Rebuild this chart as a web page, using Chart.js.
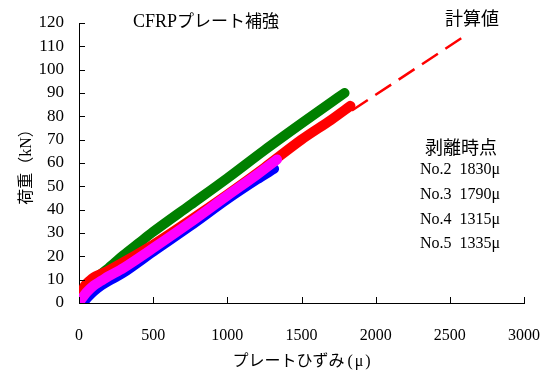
<!DOCTYPE html>
<html>
<head>
<meta charset="utf-8">
<script src="https://cdn.jsdelivr.net/npm/chart.js@4.4.1/dist/chart.umd.min.js"></script>
<style>
  html, body { margin: 0; padding: 0; background: #fff; }
  canvas { display: block; }
</style>
</head>
<body>
<canvas id="chart" width="551" height="373" style="width:551px;height:373px"></canvas>
<script>
// Load (kN) versus plate strain (μ) for CFRP-plate strengthened specimens

// No.2 (red)
const no2Strain = [0, 15, 40, 70, 100, 150, 200, 300, 500, 750, 1000, 1250, 1500, 1700, 1830];
const no2Load   = [0, 4, 7.5, 9.5, 11, 12.5, 14, 17.5, 25, 35.5, 46.5, 58, 70, 78.5, 84.5];

// No.3 (green)
const no3Strain = [0, 20, 50, 100, 150, 200, 300, 400, 500, 750, 1000, 1250, 1500, 1700, 1790];
const no3Load   = [0, 2.5, 5.5, 9.5, 12.5, 15, 20.5, 25.5, 30.5, 42, 53.5, 65.5, 77, 86, 90];

// No.4 (blue)
const no4Strain = [25, 60, 100, 150, 200, 300, 500, 750, 1000, 1200, 1315];
const no4Load   = [0, 2.5, 5, 7.5, 9.5, 13, 22, 33, 44.5, 53, 57.5];

// No.5 (magenta)
const no5Strain = [0, 20, 50, 100, 150, 200, 300, 500, 750, 1000, 1200, 1335];
const no5Load   = [0, 2, 4.5, 7.5, 9.5, 11.5, 15, 23.5, 34.5, 46, 55, 61.5];

// Calculated line (計算値)
const calcStrain = [1840, 2590];
const calcLoad   = [82.5, 114];

// Axis ranges
const strainMax = 3000, strainStep = 500;
const loadMax = 120, loadStep = 10;

// Peeling (剥離) strain labels
const peelTitle = '剥離時点';
const peelLabels = ['No.2  1830μ', 'No.3  1790μ', 'No.4  1315μ', 'No.5  1335μ'];

const SERIF = '"Liberation Serif", "Times New Roman", serif';
const GOTHIC = '"Noto Sans CJK JP", "Noto Sans", sans-serif';

function toPoints(xs, ys) {
  return xs.map((x, i) => ({ x: x, y: ys[i] }));
}

function band(label, xs, ys, color, order) {
  return {
    label: label,
    data: toPoints(xs, ys),
    showLine: true,
    borderColor: color,
    backgroundColor: color,
    borderWidth: 10,
    borderJoinStyle: 'round',
    borderCapStyle: 'round',
    pointRadius: 0,
    tension: 0.3,
    order: order
  };
}

// Draw a run of text pieces with differing fonts, left to right
function drawRun(ctx, pieces, x, y) {
  let cx = x;
  pieces.forEach(p => {
    ctx.font = p[1];
    ctx.fillText(p[0], cx, y);
    cx += ctx.measureText(p[0]).width + (p[2] || 0);
  });
  return cx - x;
}
function runWidth(ctx, pieces) {
  let w = 0;
  pieces.forEach(p => { ctx.font = p[1]; w += ctx.measureText(p[0]).width + (p[2] || 0); });
  return w;
}

const decorations = {
  id: 'decorations',
  afterDraw(chart) {
    const ctx = chart.ctx;
    const area = chart.chartArea;
    const xs = chart.scales.x, ys = chart.scales.y;
    ctx.save();

    // inward tick marks
    ctx.strokeStyle = '#000';
    ctx.lineWidth = 1;
    ctx.beginPath();
    xs.ticks.forEach(t => {
      const px = Math.round(xs.getPixelForValue(t.value)) + 0.5;
      ctx.moveTo(px, area.bottom);
      ctx.lineTo(px, area.bottom - 6);
    });
    ys.ticks.forEach(t => {
      const py = Math.round(ys.getPixelForValue(t.value)) + 0.5;
      ctx.moveTo(area.left, py);
      ctx.lineTo(area.left + 6, py);
    });
    ctx.stroke();

    ctx.fillStyle = '#000';
    ctx.textBaseline = 'alphabetic';
    ctx.textAlign = 'left';

    // heading
    drawRun(ctx, [['CFRP', '18px ' + SERIF], ['プレート補強', '17px ' + GOTHIC]], 133, 27);

    // calculated-line caption
    ctx.font = '18px ' + GOTHIC;
    ctx.fillText('計算値', 445, 25);

    // peeling strains
    ctx.fillText(peelTitle, 425, 154);
    ctx.font = '16px ' + SERIF;
    const rowBase = [174, 199, 224, 248];
    peelLabels.forEach((s, i) => ctx.fillText(s, 420, rowBase[i]));

    // x-axis title, centred on the plot area
    const xTitle = [['プレートひずみ', '16px ' + GOTHIC, 3], ['(', '16px ' + SERIF, 2], ['μ', '16px ' + SERIF, 2], [')', '16px ' + SERIF]];
    const xw = runWidth(ctx, xTitle);
    drawRun(ctx, xTitle, (area.left + area.right) / 2 - xw / 2, 366);

    // y-axis title, rotated
    const yTitle = [['荷重（', '16px ' + GOTHIC], ['kN', '16px ' + SERIF], ['）', '16px ' + GOTHIC]];
    const yw = runWidth(ctx, yTitle);
    ctx.translate(25, (area.top + area.bottom) / 2);
    ctx.rotate(-Math.PI / 2);
    drawRun(ctx, yTitle, -yw / 2, 6);

    ctx.restore();
  }
};

new Chart(document.getElementById('chart'), {
  type: 'scatter',
  data: {
    datasets: [
      band('No.5', no5Strain, no5Load, '#ff00ff', 0),
      band('No.4', no4Strain, no4Load, '#0000ff', 1),
      band('No.2', no2Strain, no2Load, '#ff0000', 2),
      band('No.3', no3Strain, no3Load, '#008000', 3),
      {
        label: '計算値',
        data: toPoints(calcStrain, calcLoad),
        showLine: true,
        borderColor: '#ff0000',
        borderWidth: 2.5,
        borderDash: [19, 9],
        pointRadius: 0,
        order: 4
      }
    ]
  },
  options: {
    responsive: false,
    animation: false,
    devicePixelRatio: 1,
    layout: { padding: { top: 23, right: 27, left: 0, bottom: 0 } },
    plugins: { legend: { display: false }, title: { display: false }, tooltip: { enabled: false } },
    scales: {
      x: {
        type: 'linear',
        min: 0, max: strainMax,
        afterFit: s => { s.height = 70; s.paddingLeft = 0; s.paddingRight = 0; },
        grid: { display: false, drawTicks: false },
        border: { display: true, color: '#000', width: 1 },
        ticks: {
          stepSize: strainStep,
          autoSkip: false,
          padding: 23,
          color: '#000',
          maxRotation: 0,
          callback: v => String(v),
          font: { family: SERIF, size: 16 }
        }
      },
      y: {
        type: 'linear',
        min: 0, max: loadMax,
        afterFit: s => { s.width = 79; s.paddingTop = 0; s.paddingBottom = 0; },
        grid: { display: false, drawTicks: false },
        border: { display: true, color: '#000', width: 1 },
        ticks: {
          stepSize: loadStep,
          autoSkip: false,
          padding: 15,
          color: '#000',
          callback: v => String(v),
          font: { family: SERIF, size: 17 }
        }
      }
    }
  },
  plugins: [decorations]
});
</script>
</body>
</html>
